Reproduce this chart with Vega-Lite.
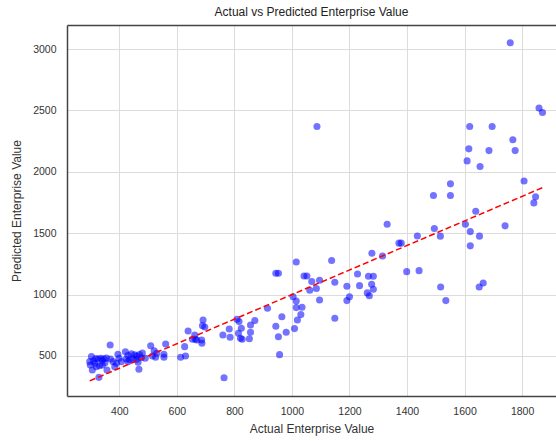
{
  "$schema": "https://vega.github.io/schema/vega-lite/v6.json",
  "width": 489,
  "height": 371,
  "autosize": {"type": "none"},
  "padding": {"left": 67, "top": 25, "right": 0, "bottom": 45},
  "background": "white",
  "title": {"text": "Actual vs Predicted Enterprise Value", "fontSize": 12, "font": "Liberation Sans", "fontWeight": "normal", "color": "#222", "offset": 6},
  "config": {
    "view": {"stroke": null},
    "axis": {"labelFont": "Liberation Sans", "titleFont": "Liberation Sans", "labelFontSize": 10.5, "titleFontSize": 12, "titleFontWeight": "normal", "labelColor": "#333", "titleColor": "#333", "gridColor": "#dcdcdc", "gridWidth": 1, "ticks": false, "domainColor": "#444", "domainWidth": 1.5}
  },
  "datasets": {
    "pts": [
      {"actual": 1759, "predicted": 3051}, {"actual": 1859, "predicted": 2519}, {"actual": 1871, "predicted": 2483},
      {"actual": 1087, "predicted": 2369}, {"actual": 1618, "predicted": 2369}, {"actual": 1696, "predicted": 2369},
      {"actual": 1768, "predicted": 2261}, {"actual": 1615, "predicted": 2187}, {"actual": 1685, "predicted": 2173},
      {"actual": 1776, "predicted": 2173}, {"actual": 1609, "predicted": 2089}, {"actual": 1654, "predicted": 2043},
      {"actual": 1807, "predicted": 1926}, {"actual": 1551, "predicted": 1902}, {"actual": 1492, "predicted": 1807},
      {"actual": 1551, "predicted": 1807}, {"actual": 1847, "predicted": 1796}, {"actual": 1841, "predicted": 1747},
      {"actual": 1639, "predicted": 1679}, {"actual": 1331, "predicted": 1573}, {"actual": 1495, "predicted": 1538},
      {"actual": 1603, "predicted": 1573}, {"actual": 1741, "predicted": 1560}, {"actual": 1620, "predicted": 1513},
      {"actual": 1436, "predicted": 1478}, {"actual": 1516, "predicted": 1476}, {"actual": 1652, "predicted": 1476},
      {"actual": 1372, "predicted": 1419}, {"actual": 1380, "predicted": 1419}, {"actual": 1620, "predicted": 1397},
      {"actual": 1399, "predicted": 1187}, {"actual": 1442, "predicted": 1195}, {"actual": 1517, "predicted": 1062},
      {"actual": 1535, "predicted": 951}, {"actual": 1651, "predicted": 1062}, {"actual": 1665, "predicted": 1095},
      {"actual": 1278, "predicted": 1337}, {"actual": 1315, "predicted": 1315}, {"actual": 1138, "predicted": 1277},
      {"actual": 1015, "predicted": 1266}, {"actual": 944, "predicted": 1174}, {"actual": 953, "predicted": 1174},
      {"actual": 1042, "predicted": 1152}, {"actual": 1052, "predicted": 1152}, {"actual": 1228, "predicted": 1168},
      {"actual": 1266, "predicted": 1150}, {"actual": 1283, "predicted": 1150}, {"actual": 1069, "predicted": 1106},
      {"actual": 1096, "predicted": 1117}, {"actual": 1149, "predicted": 1101}, {"actual": 1277, "predicted": 1084},
      {"actual": 1235, "predicted": 1073}, {"actual": 1191, "predicted": 1068}, {"actual": 1062, "predicted": 1035},
      {"actual": 1085, "predicted": 1049}, {"actual": 1283, "predicted": 1044}, {"actual": 1262, "predicted": 1014},
      {"actual": 1269, "predicted": 991}, {"actual": 1200, "predicted": 983}, {"actual": 1191, "predicted": 951},
      {"actual": 1004, "predicted": 983}, {"actual": 1015, "predicted": 948}, {"actual": 1096, "predicted": 956},
      {"actual": 915, "predicted": 889}, {"actual": 1015, "predicted": 894}, {"actual": 1035, "predicted": 897},
      {"actual": 1031, "predicted": 837}, {"actual": 965, "predicted": 820}, {"actual": 1019, "predicted": 793},
      {"actual": 1149, "predicted": 807}, {"actual": 944, "predicted": 742}, {"actual": 1009, "predicted": 723},
      {"actual": 980, "predicted": 693}, {"actual": 953, "predicted": 657}, {"actual": 957, "predicted": 511},
      {"actual": 764, "predicted": 323}, {"actual": 691, "predicted": 793}, {"actual": 689, "predicted": 747},
      {"actual": 697, "predicted": 736}, {"actual": 686, "predicted": 630}, {"actual": 687, "predicted": 603},
      {"actual": 664, "predicted": 636}, {"actual": 760, "predicted": 671}, {"actual": 782, "predicted": 720},
      {"actual": 785, "predicted": 652}, {"actual": 809, "predicted": 799}, {"actual": 816, "predicted": 780},
      {"actual": 824, "predicted": 726}, {"actual": 814, "predicted": 685}, {"actual": 821, "predicted": 644},
      {"actual": 827, "predicted": 636}, {"actual": 852, "predicted": 641}, {"actual": 856, "predicted": 693},
      {"actual": 856, "predicted": 753}, {"actual": 871, "predicted": 788},
      {"actual": 368, "predicted": 590}, {"actual": 303, "predicted": 495}, {"actual": 297, "predicted": 454},
      {"actual": 299, "predicted": 427}, {"actual": 306, "predicted": 386}, {"actual": 318, "predicted": 480},
      {"actual": 326, "predicted": 475}, {"actual": 335, "predicted": 482}, {"actual": 346, "predicted": 478},
      {"actual": 355, "predicted": 484}, {"actual": 369, "predicted": 476}, {"actual": 320, "predicted": 413},
      {"actual": 331, "predicted": 420}, {"actual": 341, "predicted": 427}, {"actual": 329, "predicted": 326},
      {"actual": 357, "predicted": 386}, {"actual": 378, "predicted": 454}, {"actual": 384, "predicted": 413},
      {"actual": 395, "predicted": 514}, {"actual": 399, "predicted": 481}, {"actual": 421, "predicted": 535},
      {"actual": 407, "predicted": 454}, {"actual": 390, "predicted": 440}, {"actual": 430, "predicted": 505},
      {"actual": 442, "predicted": 518}, {"actual": 453, "predicted": 510}, {"actual": 461, "predicted": 500},
      {"actual": 470, "predicted": 512}, {"actual": 480, "predicted": 524}, {"actual": 424, "predicted": 475},
      {"actual": 436, "predicted": 470}, {"actual": 448, "predicted": 478}, {"actual": 459, "predicted": 472},
      {"actual": 430, "predicted": 454}, {"actual": 465, "predicted": 449}, {"actual": 468, "predicted": 392},
      {"actual": 476, "predicted": 486}, {"actual": 490, "predicted": 481}, {"actual": 509, "predicted": 584},
      {"actual": 521, "predicted": 543}, {"actual": 515, "predicted": 500}, {"actual": 530, "predicted": 522},
      {"actual": 526, "predicted": 489}, {"actual": 555, "predicted": 514}, {"actual": 555, "predicted": 489},
      {"actual": 561, "predicted": 598}, {"actual": 613, "predicted": 489}, {"actual": 630, "predicted": 500},
      {"actual": 627, "predicted": 576}, {"actual": 639, "predicted": 704}, {"actual": 654, "predicted": 636},
      {"actual": 662, "predicted": 671}, {"actual": 669, "predicted": 630},
      {"actual": 310, "predicted": 460}, {"actual": 315, "predicted": 440}, {"actual": 340, "predicted": 465},
      {"actual": 350, "predicted": 445}
    ],
    "fit": [{"actual": 297, "predicted": 297}, {"actual": 1871, "predicted": 1871}]
  },
  "layer": [
    {
      "data": {"name": "pts"},
      "mark": {"type": "circle", "color": "blue", "opacity": 0.55, "size": 50},
      "encoding": {
        "x": {"field": "actual", "type": "quantitative", "scale": {"domain": [218, 1918], "nice": false, "zero": false},
              "axis": {"title": "Actual Enterprise Value", "format": "d", "values": [400, 600, 800, 1000, 1200, 1400, 1600, 1800], "labelPadding": 10, "titlePadding": 7, "orient": "bottom"}},
        "y": {"field": "predicted", "type": "quantitative", "scale": {"domain": [174, 3196], "nice": false, "zero": false},
              "axis": {"title": "Predicted Enterprise Value", "format": "d", "values": [500, 1000, 1500, 2000, 2500, 3000], "labelPadding": 11, "titlePadding": 9}}
      }
    },
    {
      "data": {"name": "fit"},
      "mark": {"type": "line", "color": "red", "strokeWidth": 1.5, "strokeDash": [6, 3]},
      "encoding": {
        "x": {"field": "actual", "type": "quantitative", "axis": {"orient": "top", "labels": false, "grid": false, "title": null, "domain": true}},
        "y": {"field": "predicted", "type": "quantitative"}
      }
    }
  ],
  "resolve": {"axis": {"x": "independent"}}
}
